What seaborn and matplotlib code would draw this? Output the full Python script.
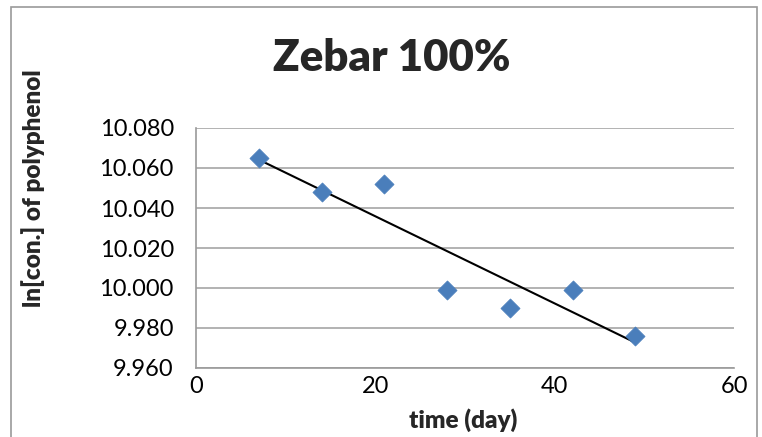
import numpy as np
import pandas as pd
import seaborn as sns
import matplotlib.pyplot as plt
from matplotlib.patches import Rectangle

# data
days = [7, 14, 21, 28, 35, 42, 49]
ln_conc = [10.065, 10.048, 10.052, 9.999, 9.990, 9.999, 9.976]
y_ticks = [9.960, 9.980, 10.000, 10.020, 10.040, 10.060, 10.080]
x_ticks = [0, 20, 40, 60]

df = pd.DataFrame({'time': days, 'lnc': ln_conc})

sns.set_style('white')
plt.rcParams['font.family'] = ['Lato', 'DejaVu Sans']

fig = plt.figure(figsize=(7.62, 4.37), dpi=100)
ax = fig.add_axes([196/762, 1 - 368/437, (734-196)/762, (368-128)/437])

# chart frame like excel
fig.patches.append(Rectangle((11/762, -0.05), (757-11)/762, 1.05 - 7/437,
                             transform=fig.transFigure, fill=False,
                             edgecolor='#9a9a9a', lw=1.2))

for yv in y_ticks:
    ax.axhline(yv, color='#a6a6a6', lw=1.2, zorder=0)

sns.regplot(data=df, x='time', y='lnc', scatter=False, ci=None, ax=ax,
            color='black', line_kws={'lw': 1.5, 'zorder': 2})
sns.scatterplot(data=df, x='time', y='lnc', marker='D', s=95,
                color='#4a7ebb', edgecolor='#4a7ebb', linewidth=0.5, ax=ax, zorder=3)

ax.set_xlim(0, 60)
ax.set_ylim(9.960, 10.080)
ax.set_xticks(x_ticks)
ax.set_yticks(y_ticks)
ax.set_yticklabels(['%.3f' % v for v in y_ticks])

for s in ['top', 'right']:
    ax.spines[s].set_visible(False)
for s in ['left', 'bottom']:
    ax.spines[s].set_color('#9a9a9a')
    ax.spines[s].set_linewidth(1.2)

ax.tick_params(axis='both', labelsize=17, colors='black', length=5,
               width=1.2, direction='out', color='#9a9a9a', pad=1)
ax.tick_params(axis='y', pad=11)

ax.set_xlabel('')
ax.set_ylabel('')
fig.text(463/762, 1 - 420/437, 'time (day)', ha='center', va='center',
         fontsize=17.5, fontweight='heavy')
fig.text(33/762, 1 - 188/437, 'ln[con.] of polyphenol', rotation=90,
         ha='center', va='center', fontsize=17.5, fontweight='heavy')
fig.text(392/762, 1 - 58/437, 'Zebar 100%', ha='center', va='center',
         fontsize=31.5, fontweight='heavy')

fig.savefig('out.png', dpi=100)
